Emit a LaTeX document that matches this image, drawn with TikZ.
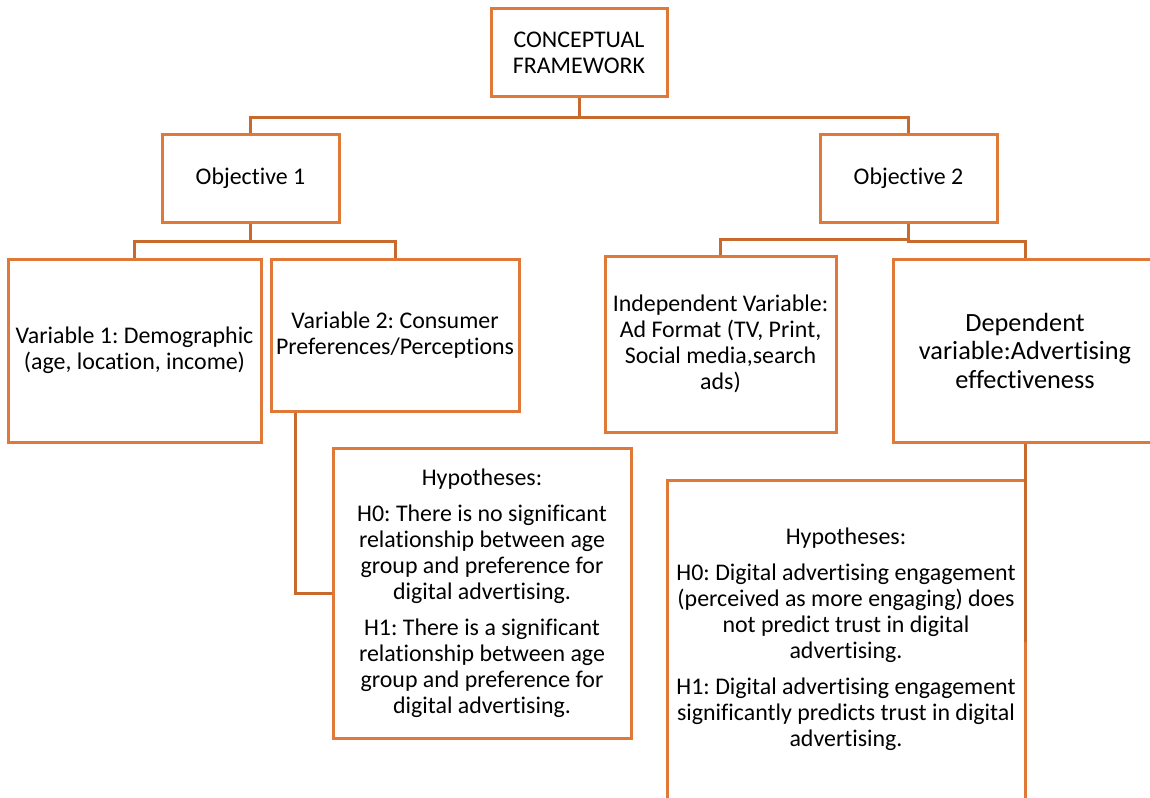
\documentclass[tikz,border=0pt]{standalone}
\usepackage{fontspec}
\setmainfont{Carlito}[Ligatures=NoCommon]
\usepackage{tikz}
\usepackage{xcolor}
\usetikzlibrary{positioning, calc}
\frenchspacing

\definecolor{boxorange}{RGB}{224,121,56}
\definecolor{lineorange}{RGB}{200,106,46}
\newcommand{\boxfont}{\fontsize{23.9pt}{26pt}\selectfont}
\newcommand{\bigboxfont}{\fontsize{26.3pt}{28.5pt}\selectfont}

\begin{document}
\begin{tikzpicture}[
        x=1pt, y=1pt,
        frame/.style={rectangle, draw=boxorange, line width=3pt, align=center, inner sep=0pt, font=\boxfont},
        link/.style={draw=lineorange, line width=3pt}
    ]
    \useasboundingbox (0,0) rectangle (1150,-797);
    \clip (0,0) rectangle (1150,-797);

    % Top
    \node (concept) [frame, minimum width=176pt, minimum height=88pt] at (579,-53) {CONCEPTUAL\\FRAMEWORK};
    \node (obj1) [frame, minimum width=177pt, minimum height=88pt] at (250.5,-178) {Objective 1};
    \node (obj2) [frame, minimum width=177pt, minimum height=88pt] at (908.5,-178) {Objective 2};
    \draw[link] (concept.south) -- ++(0,-19) -| (obj1.north);
    \draw[link] (concept.south) -- ++(0,-19) -| (obj2.north);

    % Objective 1
    \node (var1) [frame, minimum width=253pt, minimum height=183pt] at (134.5,-350.5) {Variable 1: Demographic\\(age, location, income)};
    \node (var2) [frame, minimum width=248pt, minimum height=152pt] at (395,-335) {Variable 2: Consumer\\Preferences/Perceptions};
    \draw[link] (obj1.south) -- ++(0,-18) -| (var1.north);
    \draw[link] (obj1.south) -- ++(0,-18) -| (var2.north);
    \node (hypone) [frame, minimum width=298pt, minimum height=290pt] at (482,-593) {Hypotheses:\\[10pt]H0: There is no significant\\relationship between age\\group and preference for\\digital advertising.\\[10pt]H1: There is a significant\\relationship between age\\group and preference for\\digital advertising.};
    \draw[link] ([xshift=26pt]var2.south west) |- (hypone.west);

    % Objective 2
    \node (indep) [frame, minimum width=231pt, minimum height=176pt] at (720.5,-344) {Independent Variable:\\Ad Format (TV, Print,\\Social media,search\\ads)};
    \node (depend) [frame, minimum width=264pt, minimum height=183pt, font=\bigboxfont] at (1025,-350.5) {Dependent\\variable:Advertising\\effectiveness};
    \draw[link] (obj2.south) -- ++(0,-16) -| (indep.north);
    \draw[link] (obj2.south) -- ++(0,-18) -| (depend.north);
    \node (hyptwo) [frame, minimum width=358pt, minimum height=319pt] at (846,-639.5) {Hypotheses:\\[10pt]H0: Digital advertising engagement\\(perceived as more engaging) does\\not predict trust in digital\\advertising.\\[10pt]H1: Digital advertising engagement\\significantly predicts trust in digital\\advertising.};
    \draw[link] (depend.south) -- ++(0,-198);
\end{tikzpicture}
\end{document}
